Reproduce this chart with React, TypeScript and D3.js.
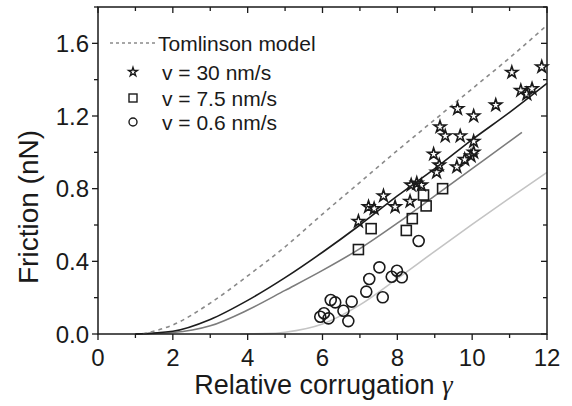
import React from "react";
import * as d3 from "d3";

const W = 572, H = 406;
const M = { left: 98, right: 547, top: 7, bottom: 334 };

const xTicks = [0, 2, 4, 6, 8, 10, 12];
const yTicks = [0.0, 0.4, 0.8, 1.2, 1.6];

// Model curves
const tomlinsonX = [1.2, 2, 3, 4, 5, 6, 7, 8, 9, 10, 11, 12];
const tomlinsonY = [0, 0.05, 0.17, 0.32, 0.48, 0.66, 0.835, 1.01, 1.18, 1.35, 1.52, 1.7];
const fit30X = [1, 2, 3, 4, 5, 6, 7, 8, 9, 10, 11, 12];
const fit30Y = [0, 0.015, 0.08, 0.185, 0.31, 0.45, 0.6, 0.76, 0.91, 1.07, 1.22, 1.38];
const fit75X = [1, 2, 3, 4, 5, 6, 7, 8, 9, 10, 11, 11.33];
const fit75Y = [0, 0.008, 0.045, 0.132, 0.24, 0.35, 0.47, 0.61, 0.76, 0.91, 1.06, 1.11];
const fit06X = [3.8, 4.5, 5, 6, 7, 8, 9, 10, 11, 12];
const fit06Y = [0, 0.002, 0.01, 0.055, 0.16, 0.305, 0.455, 0.603, 0.748, 0.89];

// Measured data
const v30X = [6.96, 7.23, 7.38, 7.63, 7.94, 8.34, 8.37, 8.52, 8.64, 8.97, 9.05, 9.12, 9.14, 9.28, 9.59, 9.61, 9.68, 9.8, 9.97, 10.04, 10.04, 10.04, 10.63, 11.06, 11.3, 11.46, 11.6, 11.86];
const v30Y = [0.62, 0.7, 0.69, 0.76, 0.7, 0.73, 0.82, 0.83, 0.82, 0.99, 0.89, 0.93, 1.14, 1.09, 0.92, 1.24, 1.09, 0.96, 0.98, 1.0, 1.06, 1.2, 1.26, 1.44, 1.34, 1.32, 1.35, 1.47];
const v75X = [6.96, 7.3, 8.24, 8.4, 8.7, 8.77, 9.21];
const v75Y = [0.465, 0.58, 0.57, 0.635, 0.765, 0.705, 0.8];
const v06X = [5.94, 6.04, 6.16, 6.22, 6.34, 6.56, 6.69, 6.78, 7.17, 7.25, 7.52, 7.61, 7.85, 7.99, 8.12, 8.57];
const v06Y = [0.095, 0.114, 0.086, 0.187, 0.174, 0.128, 0.071, 0.178, 0.233, 0.303, 0.367, 0.202, 0.315, 0.348, 0.312, 0.512];

const legendLabels = ["Tomlinson model", "v = 30 nm/s", "v = 7.5 nm/s", "v = 0.6 nm/s"];

const FONT = "'Liberation Sans', Arial, sans-serif";
const INK = "#1a1a1a";

export default function App() {
  const x = d3.scaleLinear().domain([0, 12]).range([M.left, M.right]);
  const y = d3.scaleLinear().domain([0, 1.8]).range([M.bottom, M.top]);

  const line = d3
    .line<[number, number]>()
    .x((d) => x(d[0]))
    .y((d) => y(d[1]))
    .curve(d3.curveMonotoneX);

  const zip = (a: number[], b: number[]) => a.map((v, i) => [v, b[i]] as [number, number]);

  const star = (size: number) => d3.symbol().type(d3.symbolStar).size(size)() || "";
  const starBig = star(44);
  const starSmall = star(24);

  const xMinor = d3.range(0, 12.01, 1);
  const yMinor = d3.range(0, 1.801, 0.2);

  return (
    <svg width={W} height={H} style={{ position: "absolute", left: 0, top: 0, background: "#fff" }} fontFamily={FONT}>
      {/* model curves */}
      <path d={line(zip(fit06X, fit06Y)) || ""} fill="none" stroke="#c4c4c4" strokeWidth={1.6} />
      <path d={line(zip(fit75X, fit75Y)) || ""} fill="none" stroke="#7c7c7c" strokeWidth={1.6} />
      <path d={line(zip(fit30X, fit30Y)) || ""} fill="none" stroke="#1c1c1c" strokeWidth={1.6} />
      <path d={line(zip(tomlinsonX, tomlinsonY)) || ""} fill="none" stroke="#8a8a8a" strokeWidth={1.6} strokeDasharray="4,4" />

      {/* data */}
      {v06X.map((vx, i) => (
        <circle key={"c" + i} cx={x(vx)} cy={y(v06Y[i])} r={5.5} fill="none" stroke={INK} strokeWidth={1.6} />
      ))}
      {v75X.map((vx, i) => (
        <rect key={"s" + i} x={x(vx) - 5} y={y(v75Y[i]) - 5} width={10} height={10} fill="none" stroke={INK} strokeWidth={1.6} />
      ))}
      {v30X.map((vx, i) => (
        <path key={"t" + i} d={starBig} transform={`translate(${x(vx)},${y(v30Y[i])})`} fill="none" stroke={INK} strokeWidth={1.6} />
      ))}

      {/* frame */}
      <rect x={M.left} y={M.top} width={M.right - M.left} height={M.bottom - M.top} fill="none" stroke={INK} strokeWidth={1.5} />

      {/* ticks */}
      {xMinor.map((t) => {
        const major = t % 2 === 0;
        return (
          <g key={"xt" + t}>
            <line x1={x(t)} x2={x(t)} y1={M.bottom} y2={M.bottom + (major ? 6 : 4)} stroke={INK} strokeWidth={1.3} />
            <line x1={x(t)} x2={x(t)} y1={M.top} y2={M.top + (major ? 6 : 4)} stroke={INK} strokeWidth={1.3} />
          </g>
        );
      })}
      {yMinor.map((t, i) => {
        const major = i % 2 === 0;
        return (
          <g key={"yt" + i}>
            <line x1={M.left} x2={M.left - (major ? 6 : 4)} y1={y(t)} y2={y(t)} stroke={INK} strokeWidth={1.3} />
            <line x1={M.right} x2={M.right - (major ? 6 : 4)} y1={y(t)} y2={y(t)} stroke={INK} strokeWidth={1.3} />
          </g>
        );
      })}
      {xTicks.map((t) => (
        <text key={"xl" + t} x={x(t)} y={M.bottom + 32} textAnchor="middle" fontSize={24} fill={INK}>
          {t}
        </text>
      ))}
      {yTicks.map((t) => (
        <text key={"yl" + t} x={M.left - 9} y={y(t) + 8.5} textAnchor="end" fontSize={24} fill={INK}>
          {t.toFixed(1)}
        </text>
      ))}

      {/* axis titles */}
      <text x={(M.left + M.right) / 2 + 1} y={394} textAnchor="middle" fontSize={27} fill={INK}>
        Relative corrugation <tspan fontFamily="'Liberation Serif', 'DejaVu Serif', serif" fontStyle="italic">γ</tspan>
      </text>
      <text transform={`translate(38,207) rotate(-90)`} textAnchor="middle" fontSize={28} fill={INK}>
        Friction (nN)
      </text>

      {/* legend */}
      <line x1={110} x2={157} y1={43} y2={43} stroke="#8a8a8a" strokeWidth={1.5} strokeDasharray="3,3" />
      <text x={158} y={51} fontSize={21} fill={INK}>{legendLabels[0]}</text>
      <path d={starSmall} transform="translate(133,72)" fill="none" stroke={INK} strokeWidth={1.4} />
      <text x={162} y={80} fontSize={21} fill={INK}>{legendLabels[1]}</text>
      <rect x={129} y={94} width={8} height={8} fill="none" stroke={INK} strokeWidth={1.4} />
      <text x={162} y={106} fontSize={21} fill={INK}>{legendLabels[2]}</text>
      <circle cx={133} cy={122} r={4} fill="none" stroke={INK} strokeWidth={1.4} />
      <text x={162} y={130} fontSize={21} fill={INK}>{legendLabels[3]}</text>
    </svg>
  );
}
